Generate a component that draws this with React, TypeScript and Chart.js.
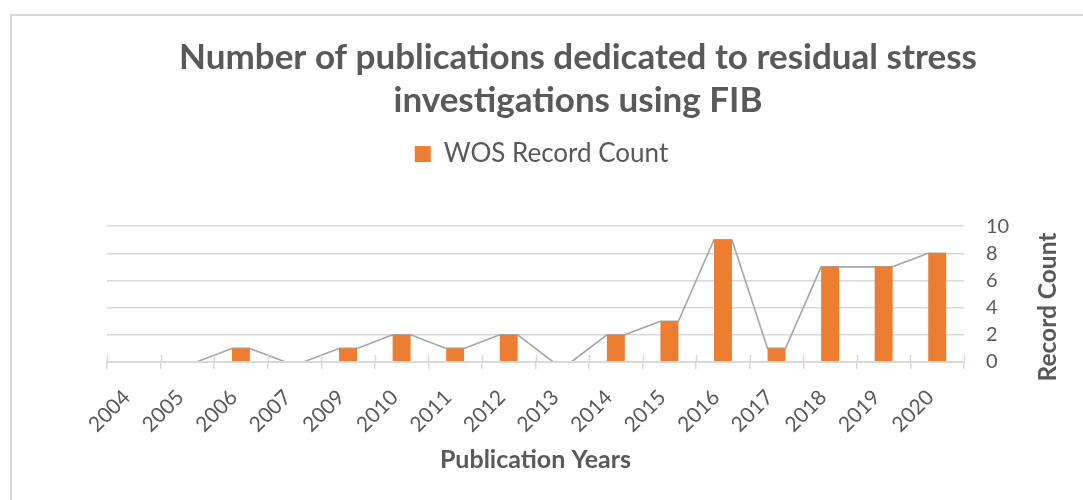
import React, { useEffect, useRef } from 'react';
import { Chart, registerables } from 'chart.js';

Chart.register(...registerables);

// ---- data ----
const categories = ['2004', '2005', '2006', '2007', '2009', '2010', '2011', '2012', '2013', '2014', '2015', '2016', '2017', '2018', '2019', '2020'];
const recordCounts = [0, 0, 1, 0, 1, 2, 1, 2, 0, 2, 3, 9, 1, 7, 7, 8];
const yTickMin = 0;
const yTickMax = 10;
const yTickStep = 2;
const titleLines = ['Number of publications dedicated to residual stress', 'investigations using FIB'];
const seriesLabel = 'WOS Record Count';
const xAxisTitle = 'Publication Years';
const yAxisTitle = 'Record Count';

// ---- styles ----
const C_TEXT = '#595959';
const C_GRID = '#d9d9d9';
const C_BAR = '#ed7d31';
const C_LINE = '#a6a6a6';
const FONT = 'Lato, "Open Sans", sans-serif';

const framePlugin = {
  id: 'frame',
  beforeDraw(chart: any) {
    const ctx = chart.ctx;
    ctx.save();
    ctx.strokeStyle = C_GRID;
    ctx.lineWidth = 2;
    ctx.beginPath();
    ctx.moveTo(11, chart.height);
    ctx.lineTo(11, 15);
    ctx.lineTo(chart.width, 15);
    ctx.stroke();
    ctx.restore();
  },
};

const connectorPlugin = {
  id: 'connector',
  beforeDatasetsDraw(chart: any) {
    const meta = chart.getDatasetMeta(0);
    const ctx = chart.ctx;
    ctx.save();
    ctx.strokeStyle = C_LINE;
    ctx.lineWidth = 1.6;
    ctx.lineJoin = 'round';
    ctx.beginPath();
    meta.data.forEach((bar: any, i: number) => {
      const { x, y, width } = bar.getProps(['x', 'y', 'width'], true);
      if (i === 0) ctx.moveTo(x - width / 2, y);
      else ctx.lineTo(x - width / 2, y);
      ctx.lineTo(x + width / 2, y);
    });
    ctx.stroke();
    ctx.restore();
  },
  afterDatasetsDraw(chart: any) {
    // small cross tick marks above the category axis
    const xs = chart.scales.x;
    const bottom = chart.chartArea.bottom;
    const ctx = chart.ctx;
    ctx.save();
    ctx.strokeStyle = C_GRID;
    ctx.lineWidth = 1.5;
    ctx.beginPath();
    for (let i = 0; i <= categories.length; i++) {
      const px = Math.round(xs.getPixelForValue(i - 0.5)) + 0.5;
      ctx.moveTo(px, bottom - 7);
      ctx.lineTo(px, bottom);
    }
    ctx.stroke();
    ctx.restore();
  },
};

const yTitlePlugin = {
  id: 'yTitle',
  afterDraw(chart: any) {
    const ctx = chart.ctx;
    const { top, bottom } = chart.chartArea;
    ctx.save();
    ctx.translate(chart.width - 35, (top + bottom) / 2 + 13);
    ctx.rotate(-Math.PI / 2);
    ctx.textAlign = 'center';
    ctx.textBaseline = 'middle';
    ctx.font = `bold 24.5px ${FONT}`;
    ctx.fillStyle = C_TEXT;
    ctx.fillText(yAxisTitle, 0, 0);
    ctx.restore();
  },
};

const LEGEND_GAP = 49;
const LEGEND_SHIFT = 6;
const legendSpacer = {
  id: 'legendSpacer',
  beforeLayout(chart: any) {
    const lg = chart.legend;
    if (lg && !lg.__spaced) {
      const fit = lg.fit.bind(lg);
      lg.fit = function () {
        fit();
        this.height += LEGEND_GAP;
      };
      lg.__spaced = true;
    }
  },
  afterLayout(chart: any) {
    const lg = chart.legend;
    if (lg) {
      lg.left += LEGEND_SHIFT;
      lg.right += LEGEND_SHIFT;
    }
  },
};

export default function App() {
  const ref = useRef<HTMLCanvasElement>(null);

  useEffect(() => {
    const prevMargin = document.body.style.margin;
    document.body.style.margin = '0';
    const chart = new Chart(ref.current as HTMLCanvasElement, {
      type: 'bar',
      data: {
        labels: categories,
        datasets: [
          {
            label: seriesLabel,
            data: recordCounts,
            backgroundColor: C_BAR,
            borderWidth: 0,
            categoryPercentage: 1,
            barPercentage: 0.335,
          },
        ],
      },
      options: {
        responsive: false,
        animation: false,
        devicePixelRatio: 1,
        layout: { padding: { left: 107, right: 34, top: 0, bottom: 0 } },
        plugins: {
          title: {
            display: true,
            text: titleLines,
            color: C_TEXT,
            font: { family: FONT, size: 35, weight: 'bold', lineHeight: 1.23 },
            padding: { top: 36, bottom: 9 },
          },
          legend: {
            display: true,
            position: 'top',
            fullSize: false,
            labels: {
              color: C_TEXT,
              font: { family: FONT, size: 26 },
              boxWidth: 16,
              boxHeight: 16,
              padding: 10,
            },
          },
          tooltip: { enabled: false },
        },
        scales: {
          x: {
            offset: true,
            grid: {
              display: true,
              offset: true,
              drawOnChartArea: false,
              tickLength: 7,
              color: C_GRID,
              lineWidth: 1.5,
            },
            border: { display: true, color: C_GRID, width: 2, z: 1 },
            ticks: {
              autoSkip: false,
              minRotation: 45,
              maxRotation: 45,
              color: C_TEXT,
              font: { family: FONT, size: 21 },
              padding: 16,
              labelOffset: -7,
            },
            title: {
              display: true,
              text: xAxisTitle,
              color: C_TEXT,
              font: { family: FONT, size: 25, weight: 'bold' },
              padding: { top: 0, bottom: 25 },
            },
            afterFit(scale: any) {
              scale.height = 138;
            },
          },
          y: {
            position: 'right',
            min: yTickMin,
            max: yTickMax,
            ticks: {
              stepSize: yTickStep,
              color: C_TEXT,
              font: { family: FONT, size: 20 },
              padding: 22,
            },
            grid: { color: C_GRID, lineWidth: 1.5, drawTicks: false },
            border: { display: false },
            afterFit(scale: any) {
              scale.width = 85;
            },
          },
        },
      },
      plugins: [framePlugin, connectorPlugin, yTitlePlugin, legendSpacer],
    } as any);
    return () => {
      chart.destroy();
      document.body.style.margin = prevMargin;
    };
  }, []);

  return (
    <div style={{ width: 1083, height: 500 }}>
      <canvas ref={ref} width={1083} height={500} style={{ display: 'block' }} />
    </div>
  );
}
